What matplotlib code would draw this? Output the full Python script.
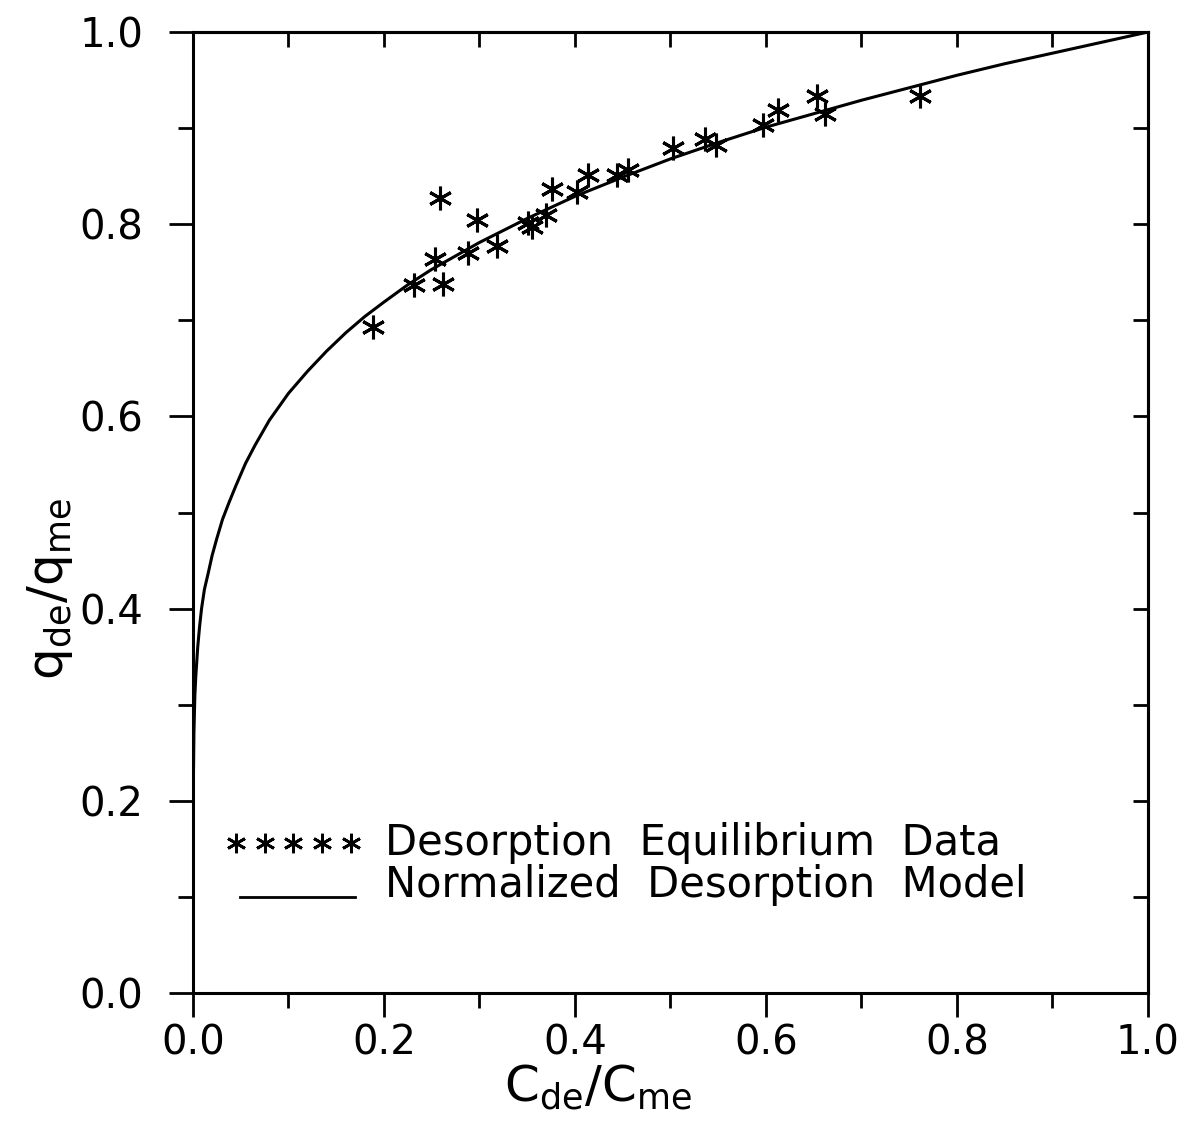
import matplotlib
matplotlib.use("Agg")
import matplotlib.pyplot as plt

# Desorption equilibrium data
data_x = [0.189, 0.259, 0.231, 0.253, 0.262, 0.297, 0.288, 0.318, 0.351, 0.355,
          0.370, 0.376, 0.402, 0.414, 0.444, 0.456, 0.503, 0.536, 0.548, 0.597,
          0.613, 0.653, 0.662, 0.761]
data_q = [0.693, 0.827, 0.737, 0.764, 0.738, 0.804, 0.770, 0.777, 0.801, 0.797,
          0.810, 0.837, 0.834, 0.851, 0.851, 0.856, 0.879, 0.889, 0.882, 0.903,
          0.919, 0.933, 0.915, 0.933]

# Normalized desorption model curve
model_x = [0.0, 0.001, 0.002, 0.003, 0.004, 0.005, 0.007, 0.009, 0.012, 0.016,
           0.02, 0.025, 0.031, 0.038, 0.045, 0.055, 0.065, 0.08, 0.1, 0.12,
           0.14, 0.16, 0.18, 0.2, 0.225, 0.25, 0.275, 0.3, 0.35, 0.4,
           0.45, 0.5, 0.55, 0.6, 0.65, 0.7, 0.75, 0.8, 0.85, 0.9, 0.95, 1.0]
model_q = [0.18, 0.27, 0.31, 0.33, 0.345, 0.36, 0.382, 0.40, 0.42, 0.437,
           0.455, 0.473, 0.493, 0.511, 0.528, 0.551, 0.570, 0.596, 0.624, 0.647,
           0.668, 0.687, 0.704, 0.719, 0.737, 0.753, 0.767, 0.781, 0.806, 0.829,
           0.849, 0.868, 0.885, 0.901, 0.915, 0.929, 0.942, 0.955, 0.967, 0.978,
           0.989, 1.0]

major_ticks = [0.0, 0.2, 0.4, 0.6, 0.8, 1.0]
minor_ticks = [0.1, 0.3, 0.5, 0.7, 0.9]
all_ticks = [0.0, 0.1, 0.2, 0.3, 0.4, 0.5, 0.6, 0.7, 0.8, 0.9, 1.0]
tick_labels = ["0.0", "0.2", "0.4", "0.6", "0.8", "1.0"]

legend_labels = ["Desorption  Equilibrium  Data", "Normalized  Desorption  Model"]

plt.rcParams['font.family'] = ['DejaVu Sans']
plt.rcParams['mathtext.default'] = 'regular'

fig = plt.figure(figsize=(11.78, 11.28), dpi=100)
ax = fig.add_axes([0.1638, 0.1197, 0.9745 - 0.1638, 0.9716 - 0.1197])

ax.plot(model_x, model_q, color='black', lw=2.2, solid_joinstyle='round')
ax.plot(data_x, data_q, linestyle='none', marker=(6, 2, 0), markersize=17,
        markeredgewidth=2.2, color='black')

ax.set_xlim(0, 1)
ax.set_ylim(0, 1)
ax.set_xticks(major_ticks)
ax.set_xticks(minor_ticks, minor=True)
ax.set_yticks(major_ticks)
ax.set_yticks(minor_ticks, minor=True)
ax.set_xticklabels(tick_labels)
ax.set_yticklabels(tick_labels)

for s in ax.spines.values():
    s.set_linewidth(2.2)

ax.tick_params(axis='both', which='major', direction='out', length=17, width=2,
               labelsize=29)
ax.tick_params(axis='both', which='minor', direction='out', length=11, width=2)
ax.tick_params(axis='x', which='major', pad=5)
ax.tick_params(axis='y', which='major', pad=19)

# top and right: inward ticks, no labels
top = ax.secondary_xaxis('top')
top.set_xticks(all_ticks)
top.tick_params(direction='in', length=11, width=2, labeltop=False)
top.spines['top'].set_linewidth(2.2)
right = ax.secondary_yaxis('right')
right.set_yticks(all_ticks)
right.tick_params(direction='in', length=11, width=2, labelright=False)
right.spines['right'].set_linewidth(2.2)

ax.set_xlabel(r'$C_{de}/C_{me}$', fontsize=36)
ax.xaxis.set_label_coords(0.424, -0.072)
ax.set_ylabel(r'$q_{de}/q_{me}$', fontsize=36)
ax.yaxis.set_label_coords(-0.124, 0.42)

# legend drawn manually
star_x = [0.045, 0.075, 0.105, 0.135, 0.165]
ax.plot(star_x, [0.156] * 5, transform=ax.transAxes, linestyle='none',
        marker=(6, 2, 0), markersize=14, markeredgewidth=2.0, color='black',
        clip_on=False)
ax.plot([0.049, 0.170], [0.100, 0.100], transform=ax.transAxes, color='black',
        lw=2.0)
ax.text(0.201, 0.156, legend_labels[0], transform=ax.transAxes, fontsize=30,
        va='center', ha='left')
ax.text(0.201, 0.112, legend_labels[1], transform=ax.transAxes, fontsize=30,
        va='center', ha='left')

fig.savefig('out.png', dpi=100)
